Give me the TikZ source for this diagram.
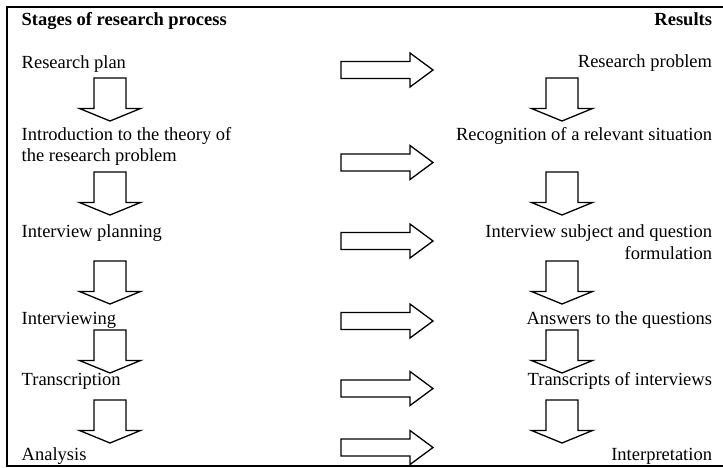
\documentclass[tikz,border=0pt]{standalone}
\usepackage{fontspec}
\setmainfont{Liberation Serif}
\begin{document}
\begin{tikzpicture}[x=1pt,y=-1pt,
  lbl/.style={inner sep=0pt,outer sep=0pt,font=\fontsize{18.5}{21.5}\selectfont},
  hdr/.style={lbl,font=\fontsize{18.5}{21.5}\selectfont\bfseries},
  blockarrow/.style={draw=black,line width=1.3pt,line join=miter,fill=white},
  rarrow/.pic={\path[blockarrow] (0,-8.5) -- (69,-8.5) -- (69,-17) -- (92,0) -- (69,17) -- (69,8.5) -- (0,8.5) -- cycle;},
  darrow/.pic={\path[blockarrow] (-16,0) -- (16,0) -- (16,30.5) -- (30.5,30.5) -- (0,43) -- (-30.5,30.5) -- (-16,30.5) -- cycle;}
]
\useasboundingbox (0,0) rectangle (723,467);
% frame
\draw[line width=2pt] (726,7) -- (7,7) -- (7,465.5) -- (726,465.5);
% down arrows
\foreach \t in {78,172,261,330,400}{
  \pic at (110,\t) {darrow};
  \pic at (562,\t) {darrow};
}
% right arrows
\foreach \c in {70,162.5,241,321,388.5,447.5}{
  \pic at (341,\c) {rarrow};
}
% headers
\node[hdr,anchor=base west] (hstages) at (21.7,25) {Stages of research process};
\node[hdr,anchor=base east] (hresults) at (712,25) {Results};
% left column
\node[lbl,anchor=base west] (l1) at (21.7,68.3) {Research plan};
\node[lbl,anchor=base west,align=left] (l2) at (21.7,161.5) {Introduction to the theory of\\the research problem};
\node[lbl,anchor=base west] (l3) at (21.7,237.3) {Interview planning};
\node[lbl,anchor=base west] (l4) at (21.7,324) {Interviewing};
\node[lbl,anchor=base west] (l5) at (21.7,385) {Transcription};
\node[lbl,anchor=base west] (l6) at (21.7,460.7) {Analysis};
% right column
\node[lbl,anchor=base east] (r1) at (712,67.5) {Research problem};
\node[lbl,anchor=base east] (r2) at (712,140) {Recognition of a relevant situation};
\node[lbl,anchor=base east,align=right] (r3) at (712,259) {Interview subject and question\\formulation};
\node[lbl,anchor=base east] (r4) at (712,324) {Answers to the questions};
\node[lbl,anchor=base east] (r5) at (712,385) {Transcripts of interviews};
\node[lbl,anchor=base east] (r6) at (712,460.7) {Interpretation};
\end{tikzpicture}
\end{document}
